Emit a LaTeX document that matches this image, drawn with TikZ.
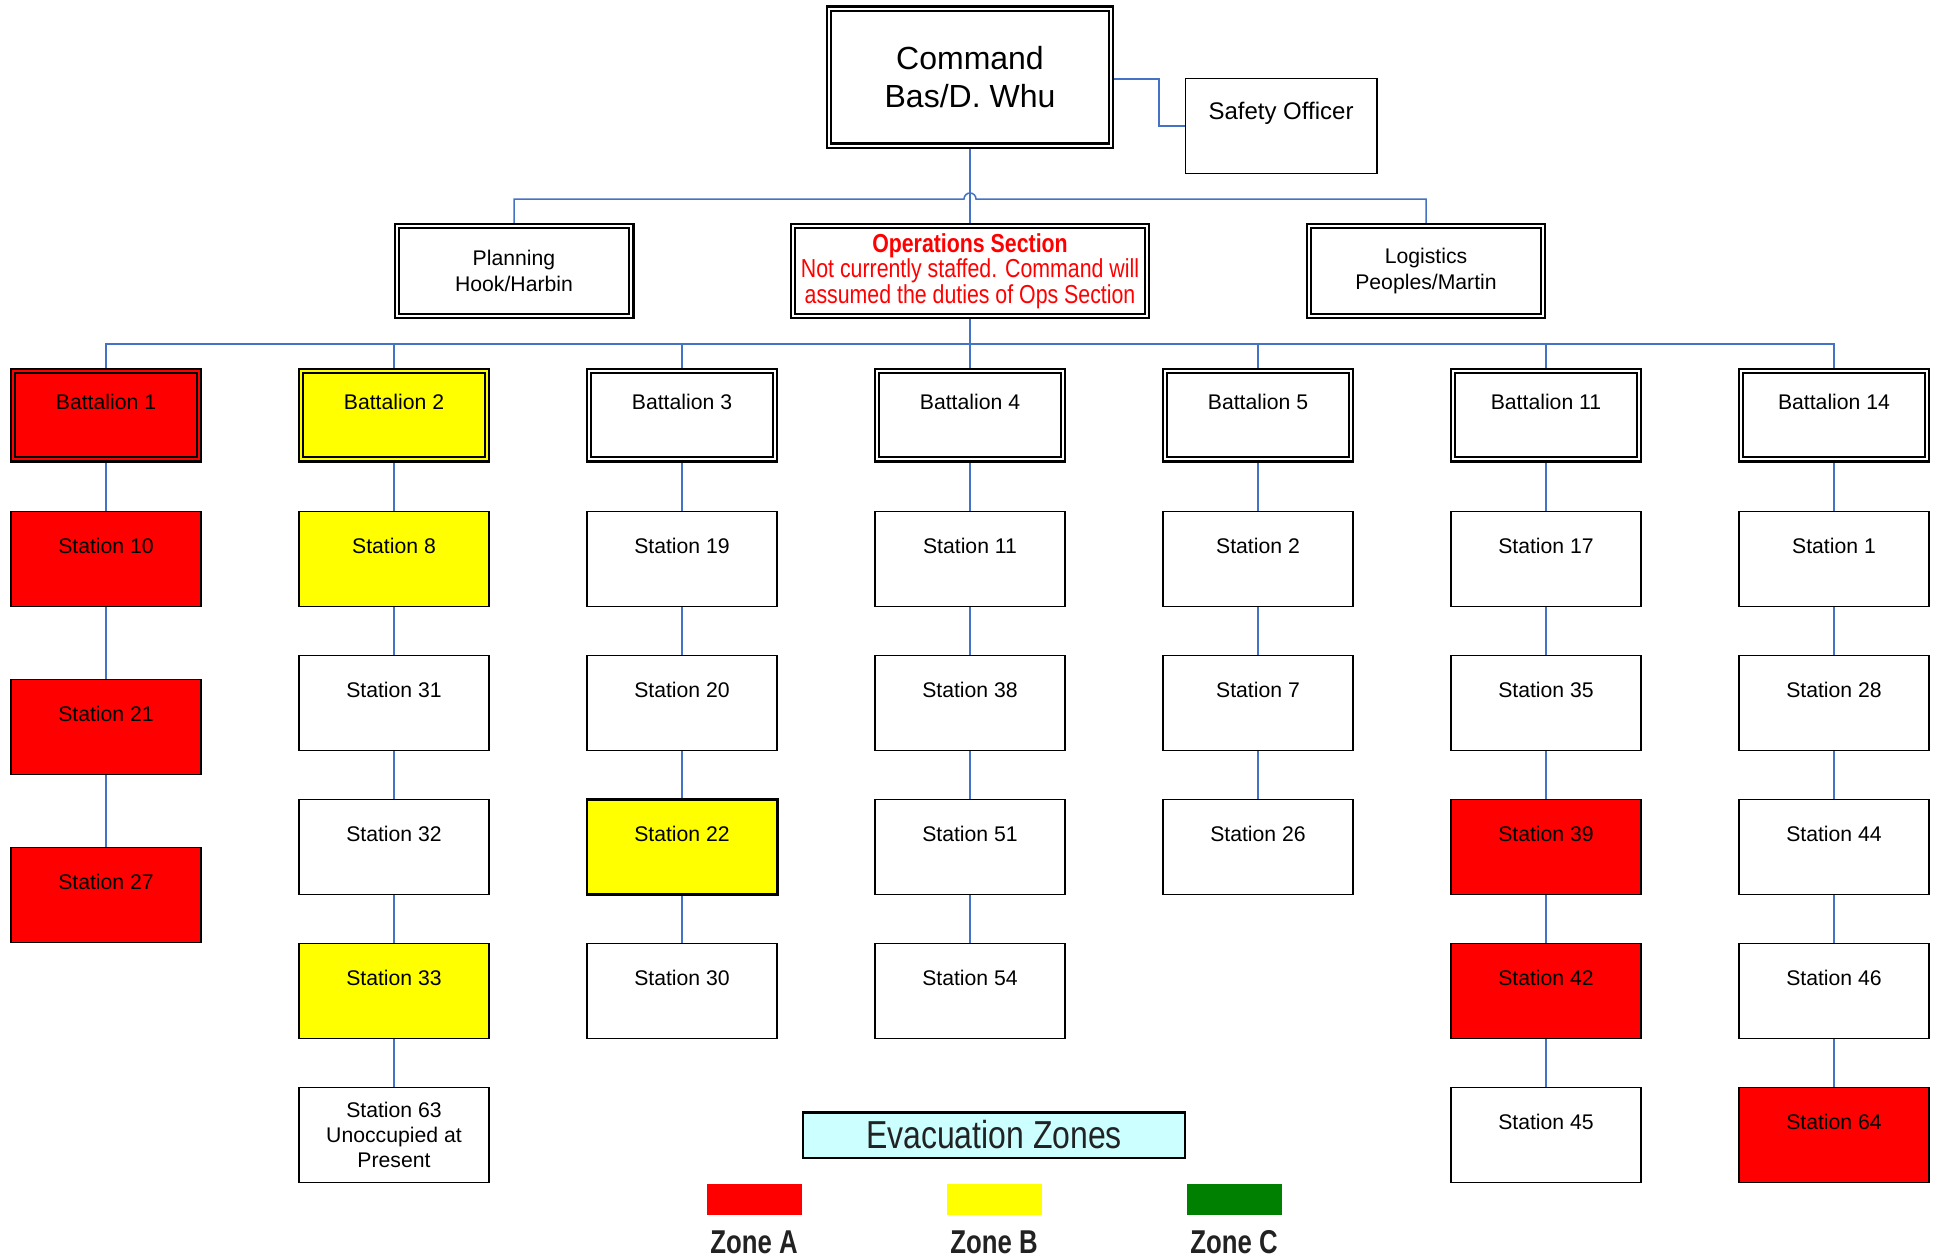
\documentclass[tikz,border=0pt]{standalone}
\usepackage{fontspec}
\setmainfont{Liberation Sans}
\newfontfamily\narrowfont[FakeStretch=0.82]{Liberation Sans}
\newfontfamily\zonefont[FakeStretch=0.78]{Liberation Sans}
\usetikzlibrary{backgrounds}

\definecolor{linkblue}{RGB}{68,114,196}
\definecolor{zonered}{RGB}{255,0,0}
\definecolor{zoneyellow}{RGB}{255,255,0}
\definecolor{zonegreen}{RGB}{0,128,0}
\definecolor{evacfill}{RGB}{204,255,255}
\definecolor{inkgray}{RGB}{34,34,34}

\tikzset{
  box/.style={draw=black, line width=0.8pt, fill=white, inner sep=0pt, outer sep=0pt,
    minimum width=95.2pt, minimum height=47.5pt, align=center,
    font=\fontsize{10.6}{12.7}\selectfont},
  oneline/.style={text height=7.6pt, text depth=13pt},
  station/.style={box, oneline, fill=#1},
  station/.default=white,
  dblbox/.style={box, double=#1, double distance=1pt, line width=1.1pt},
  dblbox/.default=white,
  battalion/.style={dblbox=#1, fill=#1, oneline, minimum width=92.8pt, minimum height=44.3pt},
  battalion/.default=white,
  conn/.style={draw=linkblue, line width=0.75pt},
  swatch/.style={draw=none, inner sep=0pt, minimum width=47.5pt, minimum height=15.5pt},
  zonelabel/.style={inner sep=0pt, text=inkgray, font=\zonefont\bfseries\fontsize{16.5}{19}\selectfont},
}

\begin{document}
\begin{tikzpicture}[x=0.5pt, y=-0.5pt]
\useasboundingbox (0,0) rectangle (1939,1259);

% command staff
\node[dblbox, minimum width=140.8pt, minimum height=68.5pt,
      font=\fontsize{16}{19.2}\selectfont] (cmd) at (970,77) {Command\\Bas/D. Whu};
\node[box, minimum width=95.7pt, minimum height=47.5pt, text height=8.6pt, text depth=15pt,
      font=\fontsize{12}{14}\selectfont] (so) at (1281,126) {Safety Officer};

% sections
\node[dblbox, minimum width=117.3pt, minimum height=45pt,
      font=\fontsize{10.6}{13}\selectfont] (plan) at (514,271) {Planning\\Hook/Harbin};
\node[dblbox, minimum width=176.8pt, minimum height=45pt, text=zonered,
      font=\narrowfont\fontsize{13}{12.7}\selectfont] (ops) at (970,271)
      {\textbf{Operations Section}\\Not currently staffed. Command will\\assumed the duties of Ops Section};
\node[dblbox, minimum width=116.8pt, minimum height=45pt,
      font=\fontsize{10.6}{13}\selectfont] (logi) at (1426,271) {Logistics\\Peoples/Martin};

% battalions
\node[battalion=zonered]    (b1)  at (106,415)  {Battalion 1};
\node[battalion=zoneyellow] (b2)  at (394,415)  {Battalion 2};
\node[battalion]            (b3)  at (682,415)  {Battalion 3};
\node[battalion]            (b4)  at (970,415)  {Battalion 4};
\node[battalion]            (b5)  at (1258,415) {Battalion 5};
\node[battalion]            (b11) at (1546,415) {Battalion 11};
\node[battalion]            (b14) at (1834,415) {Battalion 14};

% Battalion 1 stations
\node[station=zonered] (s10) at (106,559) {Station 10};
\node[station=zonered] (s21) at (106,727) {Station 21};
\node[station=zonered] (s27) at (106,895) {Station 27};

% Battalion 2 stations
\node[station=zoneyellow] (s8)  at (394,559)  {Station 8};
\node[station]            (s31) at (394,703)  {Station 31};
\node[station]            (s32) at (394,847)  {Station 32};
\node[station=zoneyellow] (s33) at (394,991)  {Station 33};
\node[box]                (s63) at (394,1135) {Station 63\\Unoccupied at\\Present};

% Battalion 3 stations
\node[station]            (s19) at (682,559) {Station 19};
\node[station]            (s20) at (682,703) {Station 20};
\node[station=zoneyellow, line width=1.3pt] (s22) at (682,847) {Station 22};
\node[station]            (s30) at (682,991) {Station 30};

% Battalion 4 stations
\node[station] (s11) at (970,559) {Station 11};
\node[station] (s38) at (970,703) {Station 38};
\node[station] (s51) at (970,847) {Station 51};
\node[station] (s54) at (970,991) {Station 54};

% Battalion 5 stations
\node[station] (s2)  at (1258,559) {Station 2};
\node[station] (s7)  at (1258,703) {Station 7};
\node[station] (s26) at (1258,847) {Station 26};

% Battalion 11 stations
\node[station]         (s17) at (1546,559)  {Station 17};
\node[station]         (s35) at (1546,703)  {Station 35};
\node[station=zonered] (s39) at (1546,847)  {Station 39};
\node[station=zonered] (s42) at (1546,991)  {Station 42};
\node[station]         (s45) at (1546,1135) {Station 45};

% Battalion 14 stations
\node[station]         (s1)  at (1834,559)  {Station 1};
\node[station]         (s28) at (1834,703)  {Station 28};
\node[station]         (s44) at (1834,847)  {Station 44};
\node[station]         (s46) at (1834,991)  {Station 46};
\node[station=zonered] (s64) at (1834,1135) {Station 64};

% legend
\node[draw=black, line width=1.3pt, fill=evacfill, inner sep=0pt,
      minimum width=191pt, minimum height=22.8pt, text=inkgray,
      font=\narrowfont\fontsize{19.5}{22}\selectfont] (evac) at (994,1135) {Evacuation Zones};
\node[swatch, fill=zonered]    (swa) at (754,1199)  {};
\node[swatch, fill=zoneyellow] (swb) at (994,1199)  {};
\node[swatch, fill=zonegreen]  (swc) at (1234,1199) {};
\node[zonelabel] (zla) at (754,1242)  {Zone A};
\node[zonelabel] (zlb) at (994,1242)  {Zone B};
\node[zonelabel] (zlc) at (1234,1242) {Zone C};

% connectors
\coordinate (hop)  at (970,199);
\coordinate (bus2) at (970,344);
\begin{pgfonlayer}{background}
  \draw[conn] (cmd.east |- 0,79) -- ++(48,0) |- (so.west);
  \draw[conn] (cmd.south) -- (ops.north);
  \draw[conn] (plan.north) |- ([xshift=-3pt]hop)
      arc[start angle=180, end angle=0, radius=3pt] -| (logi.north);
  \foreach \b in {b1,b2,b3,b4,b5,b11,b14}
    \draw[conn] (ops.south) |- (bus2) -| (\b.north);
  \foreach \a/\b in {b1/s10, s10/s21, s21/s27,
                     b2/s8, s8/s31, s31/s32, s32/s33, s33/s63,
                     b3/s19, s19/s20, s20/s22, s22/s30,
                     b4/s11, s11/s38, s38/s51, s51/s54,
                     b5/s2, s2/s7, s7/s26,
                     b11/s17, s17/s35, s35/s39, s39/s42, s42/s45,
                     b14/s1, s1/s28, s28/s44, s44/s46, s46/s64}
    \draw[conn] (\a.south) -- (\b.north);
\end{pgfonlayer}
\end{tikzpicture}
\end{document}
